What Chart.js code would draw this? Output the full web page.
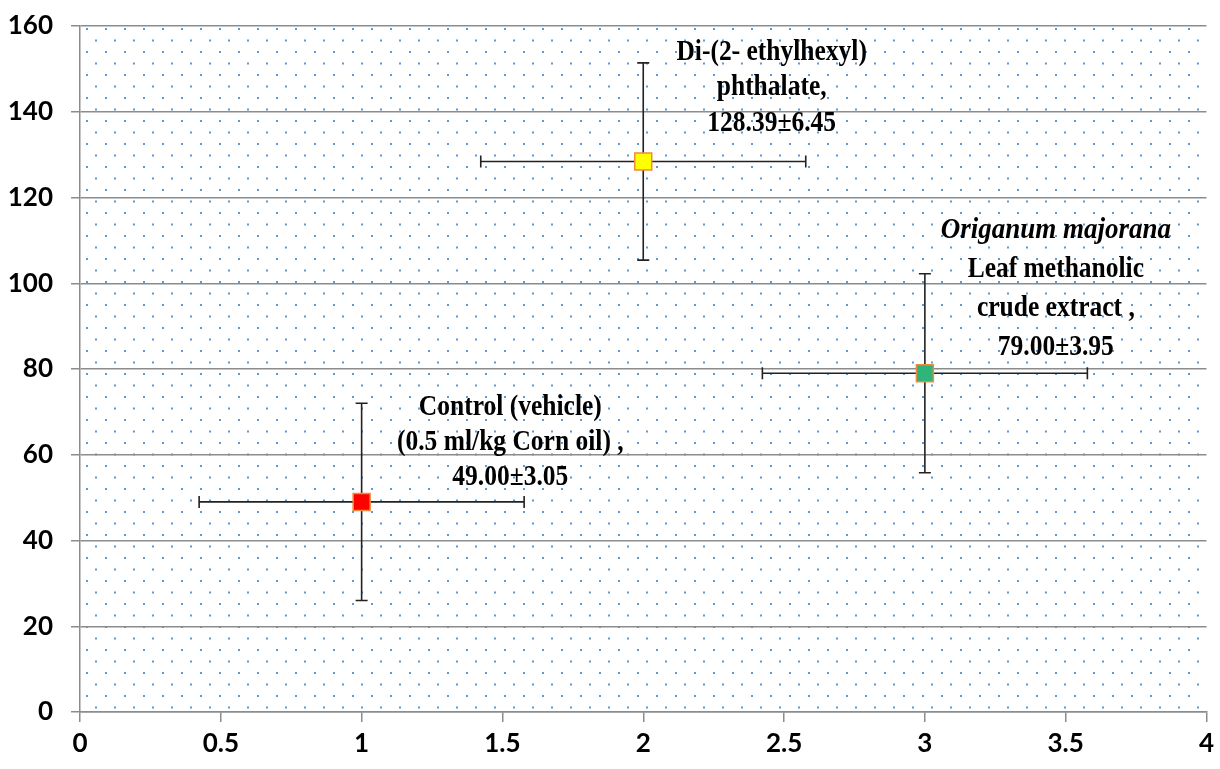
<!DOCTYPE html>
<html><head><meta charset="utf-8">
<script src="https://cdn.jsdelivr.net/npm/chart.js@4"></script>
<style>html,body{margin:0;padding:0;background:#fff}#wrap{width:1220px;height:769px}</style>
</head><body><div id="wrap"><canvas id="c" width="1220" height="769"></canvas></div>
<script>
const groups = ['Control', 'DEHP', 'Origanum'];
const xValues = [1, 2, 3];
const yValues = [49.00, 128.39, 79.00];
const yErrors = [23, 23, 23.2];
const xErrors = [0.577, 0.577, 0.577];
const pointColors = ['#ff0000', '#ffff00', '#2fb57a'];
const xTicks = [0, 0.5, 1, 1.5, 2, 2.5, 3, 3.5, 4];
const yTicks = [0, 20, 40, 60, 80, 100, 120, 140, 160];
const labelLines = [
  [{t:'Control (vehicle)'}, {t:'(0.5 ml/kg Corn oil) ,'}, {t:'49.00±3.05'}],
  [{t:'Di-(2- ethylhexyl)'}, {t:'phthalate,'}, {t:'128.39±6.45'}],
  [{t:'Origanum majorana', i:true}, {t:'Leaf methanolic'}, {t:'crude extract ,'}, {t:'79.00±3.95'}]
];
const labelAnchorX = [1.528, 2.456, 3.465];
const labelAnchorY = [71.1, 153.9, 112.4];
const labelGap = [35, 35.5, 39];

const pat = document.createElement('canvas');
pat.width = 19; pat.height = 23;
const pc = pat.getContext('2d');
pc.fillStyle = '#5b9bd5';
pc.fillRect(6, 2, 2, 2);
pc.fillRect(15, 13.5, 2, 2);

const bgPlugin = {
  id: 'bg',
  beforeDraw(chart) {
    const {ctx, chartArea: a} = chart;
    ctx.save();
    ctx.fillStyle = '#fff';
    ctx.fillRect(a.left, a.top, a.right - a.left, a.bottom - a.top);
    const p = ctx.createPattern(pat, 'repeat');
    ctx.translate(a.left, a.top);
    ctx.fillStyle = p;
    ctx.fillRect(0, 0, a.right - a.left, a.bottom - a.top);
    ctx.restore();
  }
};

const errPlugin = {
  id: 'err',
  beforeDatasetsDraw(chart) {
    const {ctx, scales: {x, y}} = chart;
    ctx.save();
    ctx.strokeStyle = '#222';
    ctx.lineWidth = 1.6;
    const cap = 6;
    for (let i = 0; i < xValues.length; i++) {
      const px = x.getPixelForValue(xValues[i]);
      const py = y.getPixelForValue(yValues[i]);
      const y1 = y.getPixelForValue(yValues[i] + yErrors[i]);
      const y2 = y.getPixelForValue(yValues[i] - yErrors[i]);
      const x1 = x.getPixelForValue(xValues[i] - xErrors[i]);
      const x2 = x.getPixelForValue(xValues[i] + xErrors[i]);
      ctx.beginPath();
      ctx.moveTo(px, y1); ctx.lineTo(px, y2);
      ctx.moveTo(px - cap, y1); ctx.lineTo(px + cap, y1);
      ctx.moveTo(px - cap, y2); ctx.lineTo(px + cap, y2);
      ctx.moveTo(x1, py); ctx.lineTo(x2, py);
      ctx.moveTo(x1, py - cap); ctx.lineTo(x1, py + cap);
      ctx.moveTo(x2, py - cap); ctx.lineTo(x2, py + cap);
      ctx.stroke();
    }
    ctx.restore();
  }
};

const labelPlugin = {
  id: 'lbl',
  afterDraw(chart) {
    const {ctx, scales: {x, y}} = chart;
    ctx.save();
    ctx.fillStyle = '#000';
    ctx.textAlign = 'center';
    ctx.textBaseline = 'middle';
    labelLines.forEach((lines, k) => {
      const cx = x.getPixelForValue(labelAnchorX[k]);
      const cy = y.getPixelForValue(labelAnchorY[k]);
      lines.forEach((ln, j) => {
        ctx.save();
        ctx.translate(cx, cy + j * labelGap[k]);
        ctx.scale(ln.i ? 0.9 : 0.85, 1);
        ctx.font = (ln.i ? 'italic ' : '') + 'bold 30px "Liberation Serif", "Times New Roman", serif';
        ctx.fillText(ln.t, 0, 0);
        ctx.restore();
      });
    });
    ctx.restore();
  }
};

const tickFont = {family: 'Lato, Calibri, "Open Sans", sans-serif', size: 26, weight: 'bold'};

new Chart(document.getElementById('c'), {
  type: 'scatter',
  data: {
    datasets: [{
      label: 'Mean',
      data: xValues.map((v, i) => ({x: v, y: yValues[i]})),
      pointStyle: 'rect',
      pointRadius: 12,
      pointHoverRadius: 12,
      pointBackgroundColor: pointColors,
      pointBorderColor: '#f08a3c',
      pointBorderWidth: 1.5,
      showLine: false
    }]
  },
  options: {
    responsive: false,
    animation: false,
    devicePixelRatio: 1,
    layout: {padding: {top: 26, right: 12, left: 0, bottom: 0}},
    plugins: {legend: {display: false}, tooltip: {enabled: false}},
    scales: {
      x: {
        type: 'linear', min: 0, max: 4,
        afterBuildTicks(s) { s.ticks = xTicks.map(v => ({value: v})); },
        afterFit(s) { s.height = 57; s.paddingLeft = 0; s.paddingRight = 0; },
        grid: {drawOnChartArea: false, drawTicks: true, tickLength: 10, color: '#8c8c8c', lineWidth: 1.5},
        border: {display: true, color: '#8c8c8c', width: 1.5},
        ticks: {color: '#000', font: tickFont, padding: 6, maxRotation: 0,
          callback: v => String(v)}
      },
      y: {
        type: 'linear', min: 0, max: 160,
        afterBuildTicks(s) { s.ticks = yTicks.map(v => ({value: v})); },
        afterFit(s) { s.width = 80; s.paddingTop = 0; s.paddingBottom = 0; },
        grid: {drawOnChartArea: true, drawTicks: true, tickLength: 9, color: '#8c8c8c', lineWidth: 1.5},
        border: {display: true, color: '#8c8c8c', width: 1.5},
        ticks: {color: '#000', font: tickFont, padding: 18, callback: v => String(v)}
      }
    }
  },
  plugins: [bgPlugin, errPlugin, labelPlugin]
});
</script>
</body></html>
